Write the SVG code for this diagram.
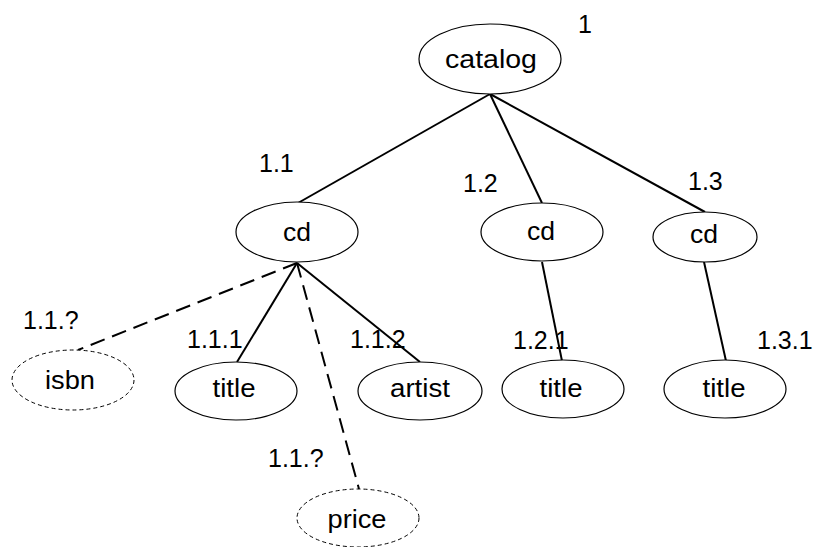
<svg xmlns="http://www.w3.org/2000/svg" width="819" height="547" viewBox="0 0 819 547">
  <style>
    .node { fill: #ffffff; stroke: #000000; stroke-width: 1.2; }
    .opt { fill: #ffffff; stroke: #000000; stroke-width: 1; stroke-dasharray: 4 3; }
    .edge { stroke: #000000; stroke-width: 2; fill: none; }
    .dash { stroke: #000000; stroke-width: 2; fill: none; stroke-dasharray: 15 8; }
    text { font-family: "Liberation Sans", Arial, sans-serif; font-size: 25px; fill: #000000; }
    .name { text-anchor: middle; }
  </style>
  <rect width="819" height="547" fill="#ffffff"/>

  <!-- connectors -->
  <g id="connectors">
    <line class="edge" x1="490" y1="94" x2="298" y2="203"/>
    <line class="edge" x1="490" y1="94" x2="542" y2="203"/>
    <line class="edge" x1="490" y1="94" x2="705" y2="212"/>
    <line class="edge" x1="297" y1="263" x2="237" y2="362"/>
    <line class="edge" x1="297" y1="263" x2="420" y2="362"/>
    <line class="dash" x1="297" y1="263" x2="78" y2="350"/>
    <line class="dash" x1="297" y1="263" x2="359" y2="489"/>
    <line class="edge" x1="542" y1="262" x2="562" y2="361"/>
    <line class="edge" x1="704" y1="262" x2="726" y2="361"/>
  </g>

  <!-- nodes -->
  <g id="n-catalog">
    <ellipse class="node" cx="490" cy="59" rx="71" ry="35"/>
    <text class="name" x="491" y="68" textLength="92" lengthAdjust="spacingAndGlyphs">catalog</text>
    <text x="578" y="33">1</text>
  </g>
  <g id="n-cd-1-1">
    <ellipse class="node" cx="297" cy="232" rx="61" ry="30"/>
    <text class="name" x="297" y="241" textLength="28" lengthAdjust="spacingAndGlyphs">cd</text>
    <text x="259" y="172">1.1</text>
  </g>
  <g id="n-cd-1-2">
    <ellipse class="node" cx="542" cy="232" rx="61" ry="29"/>
    <text class="name" x="541" y="240" textLength="28" lengthAdjust="spacingAndGlyphs">cd</text>
    <text x="463" y="192">1.2</text>
  </g>
  <g id="n-cd-1-3">
    <ellipse class="node" cx="705" cy="237" rx="52" ry="25"/>
    <text class="name" x="704" y="243" textLength="28" lengthAdjust="spacingAndGlyphs">cd</text>
    <text x="688" y="190">1.3</text>
  </g>
  <g id="n-isbn">
    <ellipse class="opt" cx="73" cy="380" rx="61" ry="30"/>
    <text class="name" x="70" y="389" textLength="50" lengthAdjust="spacingAndGlyphs">isbn</text>
    <text x="23" y="329">1.1.?</text>
  </g>
  <g id="n-title-1-1-1">
    <ellipse class="node" cx="236" cy="391" rx="61" ry="29"/>
    <text class="name" x="234" y="397" textLength="43" lengthAdjust="spacingAndGlyphs">title</text>
    <text x="187" y="348">1.1.1</text>
  </g>
  <g id="n-artist">
    <ellipse class="node" cx="420" cy="391" rx="62" ry="29"/>
    <text class="name" x="420" y="397" textLength="60" lengthAdjust="spacingAndGlyphs">artist</text>
    <text x="350" y="348">1.1.2</text>
  </g>
  <g id="n-price">
    <ellipse class="opt" cx="358" cy="518" rx="61" ry="29"/>
    <text class="name" x="357" y="528" textLength="59" lengthAdjust="spacingAndGlyphs">price</text>
    <text x="268" y="467">1.1.?</text>
  </g>
  <g id="n-title-1-2-1">
    <ellipse class="node" cx="563" cy="389" rx="61" ry="29"/>
    <text class="name" x="561" y="397" textLength="43" lengthAdjust="spacingAndGlyphs">title</text>
    <text x="513" y="349">1.2.1</text>
  </g>
  <g id="n-title-1-3-1">
    <ellipse class="node" cx="725" cy="389" rx="61" ry="29"/>
    <text class="name" x="724" y="397" textLength="43" lengthAdjust="spacingAndGlyphs">title</text>
    <text x="757" y="349">1.3.1</text>
  </g>
</svg>
